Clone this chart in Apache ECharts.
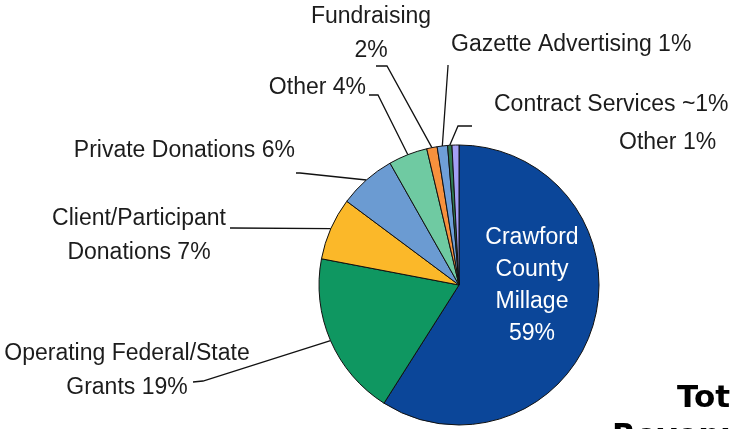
<!DOCTYPE html>
<html>
<head>
<meta charset="utf-8">
<script src="https://cdn.jsdelivr.net/npm/echarts@6/dist/echarts.min.js"></script>
<style>
html,body{margin:0;padding:0;background:#fff;}
#chart{width:731px;height:429px;}
</style>
</head>
<body>
<div id="chart"></div>
<script>
// ---- data ----
const categories = ['Crawford County Millage', 'Operating Federal/State Grants', 'Client/Participant Donations', 'Private Donations', 'Other', 'Fundraising', 'Gazette Advertising', 'Contract Services', 'Other'];
const values = [59, 19, 7.2, 6.6, 4.5, 1.2, 1.2, 0.5, 0.8];
const labelTexts = [
  'Crawford\nCounty\nMillage\n59%',
  'Operating Federal/State\nGrants 19%',
  'Client/Participant\nDonations 7%',
  'Private Donations 6%',
  'Other 4%',
  'Fundraising\n2%',
  'Gazette Advertising 1%',
  'Contract Services ~1%',
  'Other 1%'
];
const titleLines = ['Total', 'Revenue'];

// ---- styling / layout ----
const colors = ['#0b4699', '#0f9761', '#fbb829', '#6b9bd2', '#6fcaa2', '#f7913d', '#6f9fd8', '#2f7a52', '#a39ff5'];
const labelLayoutCfg = [
  {x: 532, y: 286, align: 'center'},
  {x: 127, y: 371, align: 'center', pts: [[203, 381], [193, 382]]},
  {x: 139, y: 236, align: 'center', pts: [[232, 228], [230, 228]]},
  {x: 295, y: 151, align: 'right', pts: [[300, 173], [296, 173]]},
  {x: 366, y: 88, align: 'right', pts: [[378, 95], [369, 95]]},
  {x: 371, y: 34, align: 'center', pts: [[387, 66], [376, 66]]},
  {x: 451, y: 45, align: 'left', pts: [[448, 66], [448, 65]]},
  {x: 494, y: 105, align: 'left', pts: [[458, 126], [472, 126]]},
  {x: 619, y: 143, align: 'left'}
];

const chart = echarts.init(document.getElementById('chart'), null, {renderer: 'canvas'});
const data = categories.map((n, i) => {
  const d = {name: n, value: values[i], itemStyle: {color: colors[i]}};
  if (i === 0) d.label = {position: 'inside', color: '#ffffff', lineHeight: 32};
  if (i === 8) d.labelLine = {show: false};
  return d;
});

chart.setOption({
  animation: false,
  backgroundColor: '#ffffff',
  series: [{
    type: 'pie',
    center: [459, 285],
    radius: [0, 140],
    startAngle: 90,
    clockwise: true,
    avoidLabelOverlap: false,
    data: data,
    itemStyle: {borderColor: '#111111', borderWidth: 1},
    label: {
      show: true,
      formatter: p => labelTexts[p.dataIndex],
      fontFamily: 'Liberation Sans, Arial, sans-serif',
      fontSize: 23,
      lineHeight: 34,
      color: '#1c1c1c'
    },
    labelLine: {show: true, lineStyle: {color: '#111111', width: 1.3}, length: 10, length2: 10},
    emphasis: {disabled: true},
    labelLayout: function (params) {
      const c = labelLayoutCfg[params.dataIndex];
      const out = {x: c.x, y: c.y, align: c.align, verticalAlign: 'middle'};
      if (c.pts && params.labelLinePoints) {
        const p0 = params.labelLinePoints[0];
        out.labelLinePoints = [[p0[0], p0[1]], c.pts[0], c.pts[1]];
      }
      return out;
    }
  }],
  graphic: [
    {type: 'text', left: 677, top: 383, style: {text: titleLines[0], font: 'bold 31px "DejaVu Sans", sans-serif', fill: '#000'}},
    {type: 'text', left: 612, top: 421, style: {text: titleLines[1], font: 'bold 31px "DejaVu Sans", sans-serif', fill: '#000'}}
  ]
});
</script>
</body>
</html>
